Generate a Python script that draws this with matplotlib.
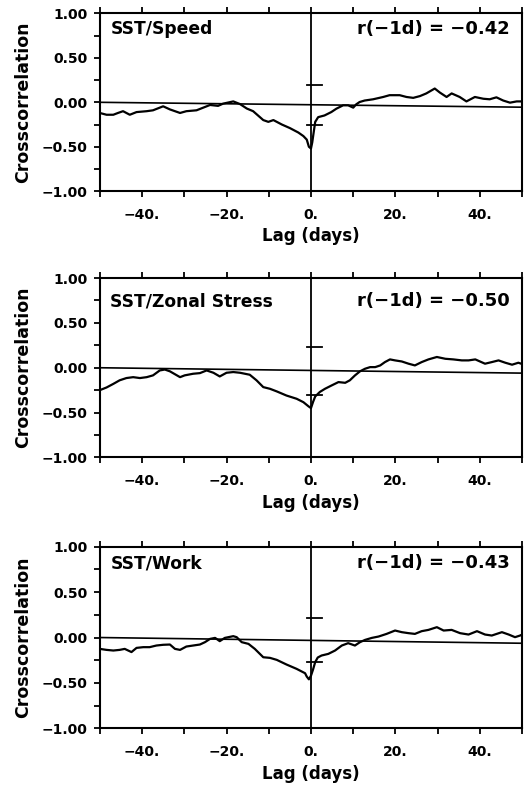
import matplotlib
matplotlib.use('Agg')
import matplotlib.pyplot as plt
from matplotlib.ticker import FixedLocator, FixedFormatter

plt.rcParams['font.family'] = ['DejaVu Sans']
plt.rcParams['font.weight'] = 'bold'

# crosscorrelation curves (lag in days)
lag_speed = [-50, -48.4, -46.8, -45.7, -44.5, -42.9, -41.3, -38.9, -37.4, -35.0,
             -33.4, -31.0, -29.5, -27.1, -25.5, -23.9, -22.0, -20.8, -18.4, -16.8,
             -15.2, -13.7, -11.3, -10.1, -8.9, -6.9, -5.0, -3.0, -1.8, -1.0,
             -0.5, 0.0, 0.3, 0.6, 1.0, 1.7, 3.2, 4.8, 6.0, 7.6,
             8.8, 10.0, 10.7, 11.5, 12.7, 14.7, 17.1, 18.6, 21.0, 22.6,
             24.2, 25.8, 27.3, 29.3, 30.5, 32.1, 33.3, 35.2, 36.8, 38.8,
             40.8, 42.3, 43.9, 45.5, 47.1, 48.7, 50]
cc_speed = [-0.12, -0.14, -0.14, -0.12, -0.10, -0.14, -0.11, -0.10, -0.09, -0.045,
            -0.08, -0.12, -0.10, -0.09, -0.06, -0.03, -0.04, -0.015, 0.01, -0.02,
            -0.07, -0.10, -0.20, -0.22, -0.20, -0.25, -0.29, -0.34, -0.38, -0.42,
            -0.50, -0.52, -0.45, -0.35, -0.22, -0.167, -0.148, -0.11, -0.072, -0.034,
            -0.034, -0.06, -0.023, 0.003, 0.02, 0.034, 0.06, 0.08, 0.08, 0.06,
            0.05, 0.07, 0.10, 0.155, 0.11, 0.06, 0.10, 0.06, 0.01, 0.06,
            0.04, 0.034, 0.056, 0.02, -0.004, 0.01, 0.01]

lag_stress = [-50, -48.4, -46.8, -45.3, -43.7, -42.1, -40.5, -38.9, -37.4, -35.8,
              -34.6, -33.4, -31.0, -29.9, -27.9, -26.3, -24.7, -23.1, -21.6, -20.0,
              -18.4, -16.8, -14.5, -12.9, -11.3, -9.7, -8.1, -5.8, -3.4, -1.8,
              -0.6, 0.0, 0.5, 1.0, 2.1, 3.3, 4.9, 6.5, 8.1, 9.2,
              10.4, 11.6, 12.8, 14.0, 15.2, 16.4, 17.5, 18.7, 19.9, 21.5,
              23.1, 24.6, 26.2, 27.8, 29.8, 31.8, 33.7, 35.7, 37.3, 38.9,
              41.2, 42.8, 44.4, 46.0, 47.6, 49.1, 50]
cc_stress = [-0.25, -0.22, -0.18, -0.14, -0.115, -0.105, -0.115, -0.105, -0.085, -0.03,
             -0.02, -0.04, -0.105, -0.085, -0.067, -0.06, -0.03, -0.056, -0.097, -0.056,
             -0.048, -0.056, -0.078, -0.14, -0.216, -0.235, -0.264, -0.31, -0.346, -0.384,
             -0.43, -0.45, -0.38, -0.32, -0.27, -0.235, -0.197, -0.16, -0.168, -0.14,
             -0.086, -0.04, -0.011, 0.007, 0.007, 0.026, 0.063, 0.093, 0.082, 0.07,
             0.045, 0.026, 0.063, 0.093, 0.12, 0.10, 0.093, 0.082, 0.082, 0.093,
             0.045, 0.063, 0.082, 0.056, 0.034, 0.056, 0.041]

lag_work = [-50, -48.4, -46.8, -45.3, -44.1, -42.5, -41.3, -39.7, -38.2, -36.6,
            -35.0, -33.4, -32.2, -31.0, -29.5, -27.9, -26.3, -25.1, -23.9, -22.7,
            -21.6, -20.4, -18.4, -17.6, -16.4, -14.8, -13.3, -11.3, -9.7, -8.1,
            -5.8, -3.4, -1.4, -1.0, -0.5, 0.0, 0.5, 1.0, 1.6, 2.5,
            4.1, 5.7, 7.3, 8.8, 10.4, 11.6, 12.8, 14.4, 16.0, 17.9,
            19.9, 21.5, 23.1, 24.6, 26.2, 27.8, 29.8, 31.4, 33.3, 35.3,
            37.3, 39.3, 41.2, 42.8, 45.2, 46.8, 48.3, 49.5, 50]
cc_work = [-0.125, -0.136, -0.143, -0.136, -0.125, -0.16, -0.114, -0.106, -0.106, -0.088,
           -0.08, -0.077, -0.125, -0.136, -0.099, -0.088, -0.077, -0.051, -0.015, -0.004,
           -0.04, -0.004, 0.015, 0.004, -0.051, -0.07, -0.125, -0.217, -0.224, -0.246,
           -0.297, -0.345, -0.393, -0.43, -0.46, -0.42, -0.35, -0.27, -0.22, -0.198,
           -0.18, -0.143, -0.088, -0.062, -0.088, -0.051, -0.026, -0.004, 0.011, 0.04,
           0.077, 0.059, 0.048, 0.04, 0.07, 0.084, 0.114, 0.077, 0.084, 0.048,
           0.033, 0.07, 0.033, 0.022, 0.059, 0.033, 0.004, 0.022, 0.033]

titles = ['SST/Speed', 'SST/Zonal Stress', 'SST/Work']
r_labels = ['r(\u22121d) = \u22120.42', 'r(\u22121d) = \u22120.50', 'r(\u22121d) = \u22120.43']
conf_upper = [0.19, 0.23, 0.22]
conf_lower = [-0.26, -0.30, -0.27]
zero_end = [-0.055, -0.06, -0.063]   # the zero line is drawn slightly tilted
title_y = [0.91, 0.87, 0.91]

x_ticks = [-50, -40, -30, -20, -10, 0, 10, 20, 30, 40, 50]
x_labels = ['', '\u221240.', '', '\u221220.', '', '0.', '', '20.', '', '40.', '']
y_ticks = [-1.0, -0.75, -0.5, -0.25, 0.0, 0.25, 0.5, 0.75, 1.0]
y_labels = ['\u22121.00', '', '\u22120.50', '', '0.00', '', '0.50', '', '1.00']

lags = [lag_speed, lag_stress, lag_work]
ccs = [cc_speed, cc_stress, cc_work]
bottoms = [0.758, 0.421, 0.078]
heights = [0.225, 0.227, 0.230]

fig = plt.figure(figsize=(5.28, 7.9), dpi=100)

for i in range(3):
    ax = fig.add_axes([0.189, bottoms[i], 0.80, heights[i]])
    ax.plot(lags[i], ccs[i], color='black', lw=1.6)
    ax.plot([-50, 50], [0, zero_end[i]], color='black', lw=1.2)
    ax.axvline(0, color='black', lw=1.3)
    ax.plot([-1, 2.5], [conf_upper[i], conf_upper[i]], color='black', lw=1.3)
    ax.plot([-1, 2.5], [conf_lower[i], conf_lower[i]], color='black', lw=1.3)
    ax.set_xlim(-50, 50)
    ax.set_ylim(-1, 1)
    ax.xaxis.set_major_locator(FixedLocator(x_ticks))
    ax.xaxis.set_major_formatter(FixedFormatter(x_labels))
    ax.yaxis.set_major_locator(FixedLocator(y_ticks))
    ax.yaxis.set_major_formatter(FixedFormatter(y_labels))
    ax.tick_params(axis='x', top=True, bottom=True, direction='out', length=4, width=1.3,
                   labelsize=10, pad=8)
    ax.tick_params(axis='y', left=True, right=False, direction='out', length=4, width=1.3,
                   labelsize=10, pad=5)
    for s in ax.spines.values():
        s.set_linewidth(1.5)
    ax.set_ylabel('Crosscorrelation', fontsize=12.5, fontweight='bold', labelpad=7)
    ax.set_xlabel('Lag (days)', fontsize=12, fontweight='bold', labelpad=4)
    ax.text(0.025, title_y[i], titles[i], transform=ax.transAxes, fontsize=12.3,
            fontweight='bold', va='center', ha='left')
    ax.text(0.97, title_y[i], r_labels[i], transform=ax.transAxes, fontsize=13,
            fontweight='bold', va='center', ha='right')

fig.savefig('out.png', dpi=100)
